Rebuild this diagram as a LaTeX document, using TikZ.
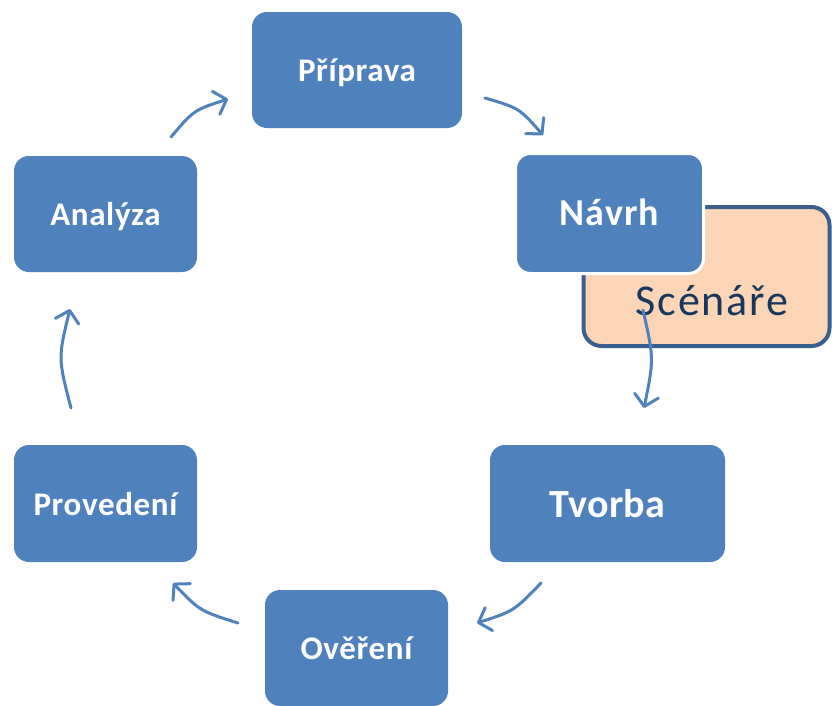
\documentclass[tikz,border=0pt]{standalone}
\usepackage{fontspec}
\setmainfont{Carlito}
\newfontfamily\stagefont[LetterSpace=2]{Carlito}
\newfontfamily\widefont[LetterSpace=3]{Carlito}
\newfontfamily\tightfont[LetterSpace=1]{Carlito}
\newfontfamily\notefont[LetterSpace=4]{Carlito}
\usetikzlibrary{arrows.meta}
\definecolor{stageblue}{HTML}{4F81BD}
\definecolor{notefill}{HTML}{FBD5B5}
\definecolor{noteedge}{HTML}{3A5F8C}
\definecolor{notetext}{HTML}{17375E}
\tikzset{
  stage/.style={fill=stageblue, rounded corners=15pt, text=white,
    inner sep=0pt, text height=23.8pt, text depth=0pt,
    font=\stagefont\bfseries\fontsize{33}{33}\selectfont},
  flow/.style={draw=stageblue, line width=3pt, line cap=round,
    -{Straight Barb[length=11pt,width=24pt,line cap=round,line join=round]}}
}
\begin{document}
\begin{tikzpicture}[x=1pt,y=-1pt]
\useasboundingbox (0,0) rectangle (832,705);

% side note behind the design step
\node[draw=noteedge, line width=4pt, fill=notefill, rounded corners=18pt,
      minimum width=246pt, minimum height=139pt] (note) at (706.5,276.5) {};
\node[anchor=base, text=notetext, inner sep=0pt,
      font=\notefont\fontsize{44}{44}\selectfont] (notetxt) at (712,315) {Scénáře};

% the six stages of the cycle
\node[stage, minimum width=210pt, minimum height=116pt] (prep) at (357,70) {Příprava};
\node[stage, font=\widefont\bfseries\fontsize{38}{38}\selectfont, text height=24pt,
      draw=white, line width=3pt, minimum width=188pt, minimum height=120pt]
      (design) at (609.5,213.5) {Návrh};
\node[stage, minimum width=183pt, minimum height=116pt] (anal) at (105.5,214) {Analýza};
\node[stage, font=\tightfont\bfseries\fontsize{40}{40}\selectfont, text height=28.2pt,
      minimum width=235pt, minimum height=117pt] (build) at (607.5,503.5) {Tvorba};
\node[stage, minimum width=183pt, minimum height=117pt] (run) at (105.5,503.5) {Provedení};
\node[stage, minimum width=183pt, minimum height=116pt] (check) at (356.5,648) {Ověření};

% arrow end points
\coordinate (a1s) at (171,137);  \coordinate (a1e) at (228,99);
\coordinate (a2s) at (485,98);   \coordinate (a2e) at (543,135);
\coordinate (a3s) at (643,310);  \coordinate (a3e) at (644,408);
\coordinate (a4s) at (541,583);  \coordinate (a4e) at (477,623);
\coordinate (a5s) at (238,623);  \coordinate (a5e) at (173,583);
\coordinate (a6s) at (71,408);   \coordinate (a6e) at (70,309);

\draw[flow] (a1s) .. controls (194,110) .. (a1e);
\draw[flow] (a2s) .. controls (519,108) .. (a2e);
\draw[flow] (a3s) .. controls (654,359) .. (a3e);
\draw[flow] (a4s) .. controls (514,611) .. (a4e);
\draw[flow] (a5s) .. controls (200,611) .. (a5e);
\draw[flow] (a6s) .. controls (58,358) .. (a6e);
\end{tikzpicture}
\end{document}
